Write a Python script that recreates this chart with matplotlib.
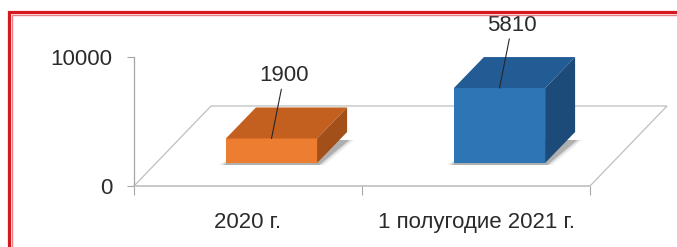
import numpy as np
import matplotlib.pyplot as plt
from matplotlib.patches import Polygon, Rectangle
from matplotlib.transforms import offset_copy, IdentityTransform

# chart data
categories = ['2020 г.', '1 полугодие 2021 г.']
values = [1900, 5810]
value_labels = ['1900', '5810']
y_ticks = [0, 10000]

front_colors = ['#ED7D31', '#2E75B6']
top_colors = ['#C3601F', '#235C94']
side_colors = ['#A24F1A', '#1D4B79']

W, H = 677, 247
plt.rcParams['font.family'] = ['Liberation Sans', 'DejaVu Sans']
text_color = '#2b2b2b'
grid_color = '#BFBFBF'
fs = 16

fig = plt.figure(figsize=(W / 100, H / 100), dpi=100)
ax = fig.add_axes([134 / W, 61 / H, 456 / W, 129 / H])
ax.set_xlim(0, len(categories))
ax.set_ylim(y_ticks[0], y_ticks[-1])
ax.patch.set_visible(False)

# pseudo 3d offsets in pixels
FLOOR_DX, FLOOR_DY = 77, 80
BAR_DX, BAR_DY = 30, 31
FRONT_DX, FRONT_DY = 23.5, 23
bar_w = 0.4

# floor outline (front edge is the x spine)
fl = ax.transData.transform([(0, 0), (len(categories), 0)])
floor = [tuple(fl[0]), (fl[0][0] + FLOOR_DX, fl[0][1] + FLOOR_DY),
         (fl[1][0] + FLOOR_DX, fl[1][1] + FLOOR_DY), tuple(fl[1])]
ax.add_patch(Polygon(floor, closed=False, fill=False, edgecolor=grid_color,
                     lw=0.9, transform=IdentityTransform(), clip_on=False, zorder=1))

front_tr = offset_copy(ax.transData, fig=fig, x=FRONT_DX, y=FRONT_DY, units='dots')
xpos = np.arange(len(categories)) + 0.5

# shadows under bars
for i, v in enumerate(values):
    x0, y0 = front_tr.transform((xpos[i] - bar_w / 2, 0))
    x1, _ = front_tr.transform((xpos[i] + bar_w / 2, 0))
    for k, a in [(7, 0.08), (4, 0.14), (2, 0.22)]:
        shadow = [(x0 - k, y0 - 2), (x1 + k, y0 - 2),
                  (x1 + BAR_DX + k, y0 + BAR_DY - 8), (x0 + BAR_DX, y0 + BAR_DY - 8)]
        ax.add_patch(Polygon(shadow, facecolor='#303030', edgecolor='none', alpha=a,
                             transform=IdentityTransform(), clip_on=False, zorder=2))

# front faces
ax.bar(xpos, values, width=bar_w, color=front_colors, transform=front_tr,
       clip_on=False, zorder=3)

# top and side faces
for i, v in enumerate(values):
    x0, y0 = front_tr.transform((xpos[i] - bar_w / 2, 0))
    x1, y1 = front_tr.transform((xpos[i] + bar_w / 2, v))
    top = [(x0, y1), (x1, y1), (x1 + BAR_DX, y1 + BAR_DY), (x0 + BAR_DX, y1 + BAR_DY)]
    side = [(x1, y0), (x1 + BAR_DX, y0 + BAR_DY), (x1 + BAR_DX, y1 + BAR_DY), (x1, y1)]
    ax.add_patch(Polygon(top, facecolor=top_colors[i], edgecolor='none',
                         transform=IdentityTransform(), clip_on=False, zorder=3))
    ax.add_patch(Polygon(side, facecolor=side_colors[i], edgecolor='none',
                         transform=IdentityTransform(), clip_on=False, zorder=3))
    ax.annotate(value_labels[i], xy=(xpos[i], v), xycoords=front_tr,
                xytext=(9, 45), textcoords='offset points', ha='center', va='center',
                fontsize=fs, color=text_color, annotation_clip=False, zorder=4,
                arrowprops=dict(arrowstyle='-', color='#262626', lw=0.8,
                                shrinkA=0, shrinkB=0))

# axes
for s in ['top', 'right']:
    ax.spines[s].set_visible(False)
ax.spines['left'].set_color('#A6A6A6')
ax.spines['left'].set_linewidth(0.9)
ax.spines['bottom'].set_color(grid_color)
ax.spines['bottom'].set_linewidth(1.2)

ax.set_yticks(y_ticks, [str(t) for t in y_ticks])
ax.tick_params(axis='y', length=5, width=0.8, color='#A6A6A6', pad=10.5,
               labelsize=fs, labelcolor=text_color)
ax.set_xticks(xpos, categories)
ax.set_xticks(np.arange(len(categories) + 1), minor=True)
ax.tick_params(axis='x', which='major', length=0, pad=19, labelsize=fs,
               labelcolor=text_color)
ax.tick_params(axis='x', which='minor', length=6.5, width=0.8, color='#A6A6A6')

# red double frame
fig.patches.append(Rectangle((8.5 / W, -0.1), 1.2, (H - 12.5) / H + 0.1,
                             transform=fig.transFigure, fill=False,
                             edgecolor='#D41A1F', lw=2.3))
fig.patches.append(Rectangle((11.8 / W, -0.1), 1.2, (H - 15.5) / H + 0.1,
                             transform=fig.transFigure, fill=False,
                             edgecolor='#E57F84', lw=1.0))

fig.savefig('out.png', dpi=100)
